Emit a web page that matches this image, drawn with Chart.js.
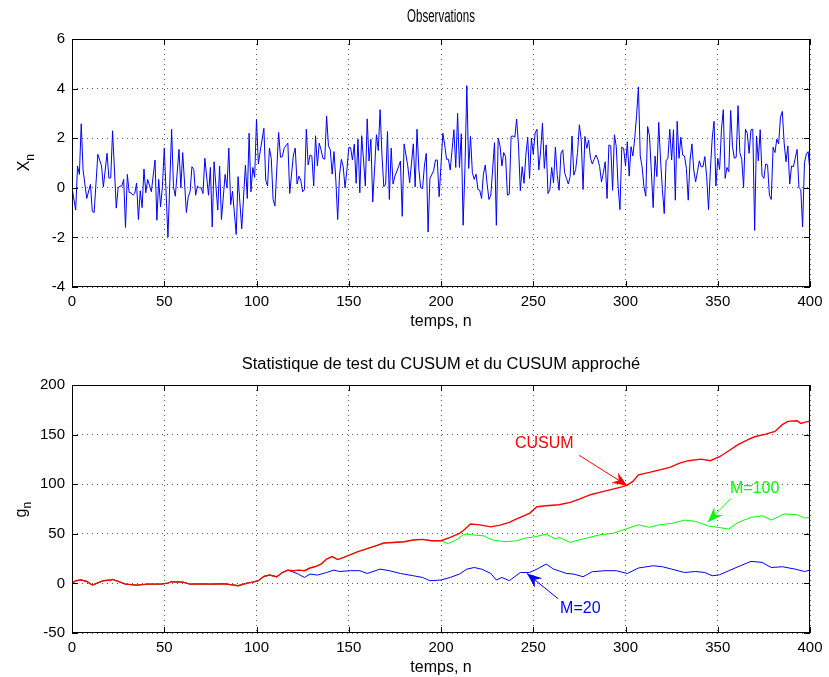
<!DOCTYPE html>
<html>
<head>
<meta charset="utf-8">
<script src="https://cdn.jsdelivr.net/npm/chart.js@4.4.1/dist/chart.umd.min.js"></script>
<style>
  html, body { margin: 0; padding: 0; background: #fff; }
  #wrap { position: relative; width: 829px; height: 677px; }
  canvas { position: absolute; left: 0; }
</style>
</head>
<body>
<div id="wrap">
  <canvas id="obsChart" width="829" height="338" style="top:0px"></canvas>
  <canvas id="cusumChart" width="829" height="339" style="top:338px"></canvas>
</div>
<script>
// ---- observations X_n (sample index, value)
const obsN = [0,2,3,4,5,6,8,10,11,12,14,16,17,19,20,21,22,24,25,26,27,28,29,30,31,32,33,34,35,36,37,38,39,40,41,43,45,46,47,48,49,
  50,52,54,55,56,58,59,60,62,63,64,65,66,67,68,69,70,71,72,74,75,76,77,79,80,81,83,84,85,86,87,89,90,92,94,95,96,97,98,99,
  100,101,102,104,105,106,107,108,109,110,112,113,114,115,117,118,120,121,122,123,124,125,126,127,128,129,130,131,132,133,134,135,136,137,138,139,140,141,142,143,144,145,146,147,148,149,
  150,151,152,153,154,155,156,157,158,159,160,161,162,163,165,166,167,168,169,170,171,172,173,174,175,177,178,179,180,182,183,185,186,187,188,189,190,191,192,193,194,196,197,198,199,
  201,202,203,204,205,207,208,209,210,211,212,213,214,215,216,217,218,219,220,221,222,223,224,225,226,227,229,230,231,232,233,234,235,236,237,238,239,240,241,242,243,244,245,246,247,248,249,
  250,251,252,253,254,255,256,257,258,259,260,261,262,263,264,265,266,267,268,269,270,271,272,273,274,275,276,277,278,279,280,281,282,283,284,285,286,287,288,289,290,291,292,293,294,295,296,297,298,299,
  300,301,302,303,304,305,306,307,308,309,310,311,312,313,314,315,316,317,318,319,320,321,322,323,324,325,326,327,328,329,330,331,332,333,334,335,336,337,338,339,340,341,342,343,344,345,346,347,348,349,
  350,351,352,353,354,355,356,357,358,359,360,361,362,363,364,365,366,367,368,369,370,371,372,373,374,375,376,377,378,379,380,381,382,383,384,385,386,387,388,389,390,391,392,393,394,395,396,397,398,399,400];
const obsX = [0,-0.9,0.88,0.54,2.58,0.72,-0.43,0.14,-0.95,-1.0,1.35,0.88,0.04,1.39,0.39,0.4,2.3,-0.82,0,0.07,0.07,0.34,-1.6,0.54,-0.19,-0.2,-0.3,-0.23,0.19,-1.28,-0.12,-0.8,0.76,-0.2,0.34,-0.16,1.12,-1.31,0.34,-0.77,0.04,
  1.6,-1.99,2.36,0.04,-0.34,1.55,0,1.42,-1.0,-0.36,-0.16,0.85,0.74,-0.3,0.07,0,0,-0.23,1.19,-0.3,0.82,-1.58,1.05,-0.9,0.88,-1.28,0.54,0,1.6,-0.68,-0.14,-1.88,0.45,-1.65,0.92,-0.43,2.2,-0.16,0.82,0.42,
  2.77,0.96,1.46,2.4,0.31,0.07,1.6,1.19,-0.47,-0.73,2.23,1.23,1.26,1.6,1.8,-0.23,1.32,1.6,0.15,0.47,0.31,-0.16,-0.07,2.36,0.92,1.32,1.28,0.07,2.1,0.88,1.8,1.53,1.19,1.15,2.9,1.69,1.53,0.55,1.46,0.31,-1.28,0.51,1.15,0.85,0,0.72,
  1.62,1.62,1.12,1.76,0.18,1.96,-0.2,2.1,1.12,0.07,2.78,1.08,1.96,-0.57,2.14,1.5,3.15,1.32,0.04,0.15,2.27,-0.47,1.6,0.15,0.47,0.85,1.08,-1.15,1.77,0.88,0.2,1.77,0.04,2.36,0.74,0,-0.03,0.88,1.39,-1.78,0.38,0.69,1.12,1.12,-0.36,
  2.2,1.73,1.15,1.15,0.72,2.34,0.82,3.0,0.82,2.18,-1.51,0.85,4.12,0.78,2.07,0.61,0.34,0.55,-0.07,-0.1,-0.43,0.55,0.92,0.15,-0.47,-0.3,1.82,-1.51,2.0,1.69,0.88,1.42,1.26,-0.3,-0.26,2.07,2.09,2.04,2.77,1.73,-0.12,0.85,0.18,1.32,2.04,0.38,2.0,
  1.36,2.2,2.36,0.72,1.5,2.61,0.78,1.73,-0.23,-0.07,0.82,0.2,1.64,0.51,-0.1,1.39,1.53,0.61,0.38,0.15,0.45,2.09,0.51,0.74,1.42,2.54,1.93,-0.07,2.07,1.59,1.93,1.19,0.96,1.15,1.32,1.15,0.85,0.24,0.61,1.05,-0.43,1.73,1.69,-0.1,2.14,1.66,0.04,-0.88,1.64,1.59,
  0.88,1.86,0.47,1.66,1.28,2.0,2.9,4.07,1.28,0.85,0.04,-0.34,2.47,2.09,0.65,-0.8,1.28,0.45,2.64,1.12,-0.07,-1.04,1.09,1.19,2.36,1.12,2.34,-0.5,2.68,1.19,2.04,1.32,1.28,0.78,-0.5,1.12,1.77,0.72,0.24,0.65,1.09,0.85,0.85,1.26,0.45,-0.88,0.72,2.0,2.68,0.07,
  1.19,0.74,2.34,3.15,0.38,0.82,0.65,3.12,1.66,1.19,1.23,3.31,1.42,1.15,0.01,2.36,2.2,1.39,2.34,2.36,-1.72,2.09,1.09,2.34,0.51,0.38,0.96,0.92,-0.3,-0.47,1.64,1.42,1.96,1.77,2.85,3.08,1.8,1.05,1.69,0.15,0.88,0.85,1.19,1.55,0.01,-0.07,-1.58,1.01,1.36,1.46,0.65];

// ---- test statistics g_n
// common part of all three curves (n <= 117)
const baseN = [0,2,5,8,11,14,17,21,22,25,29,35,41,48,52,54,60,64,70,75,82,88,90,95,98,101,104,107,111,114,117];
const baseG = [0,2.7,3.4,2,-1.7,0.5,2.7,3.4,4,2,-0.7,-1.7,-0.7,-0.7,0.3,1.7,1.3,-0.7,-0.5,-0.7,-0.3,-1.7,-2.4,0.3,1.3,2.7,7,8.4,6.7,11,13.4];
// CUSUM and M=100 are the same up to n = 200
const sharedN = [120,123,126,129,132,135,138,141,144,147,151,155,160,165,169,174,180,185,190,195,200];
const sharedG = [12.8,13.4,12.8,15.5,17,19.5,24.5,27,24,26,29,32,35,38,40.7,41.3,42,43.7,44.4,43,43];
const cusumN = [205,210,212,216,221,227,232,237,241,248,252,257,264,270,275,281,286,291,297,301,304,307,313,318,324,329,334,341,346,351,356,361,367,370,376,381,385,388,393,395,399,400];
const cusumG = [46.4,50.4,53,59.8,59,57,58.8,61.5,65,70.6,77.3,78.3,79.3,81.7,85,89.4,91.7,94,96.8,99,102.8,109.5,111.9,114.2,117,121,123.7,125.3,123.7,127.7,133.7,139.8,145.5,147.8,150.5,153.2,160,163.3,164,161.3,163.3,162.6];
const m100N = [204,209,212,214,218,223,228,231,235,241,246,251,257,262,264,270,273,279,286,293,300,307,313,318,325,332,338,345,350,356,361,368,374,379,386,393,397,400];
const m100G = [40,44.7,49,49.7,48.7,48,43.7,43,42,43,45.7,47,49.7,44.7,46.4,41.3,43,45.7,49,50.4,54.8,59,56.5,59,60.5,63.8,62.5,57.8,56.5,54.8,61.5,66.5,68.2,63.8,70,69.2,65.9,66.5];
const m20N = [122,126,129,133,138,142,145,151,156,160,167,172,178,185,190,194,200,205,210,214,218,222,227,230,233,237,243,248,252,257,261,265,268,272,277,282,289,295,301,307,315,320,325,332,338,343,347,351,356,361,368,374,379,385,392,397,400];
const m20G = [10,6,9.4,8.4,11,13.4,12,12.8,12.8,10,14.4,12.8,10,7.7,6,2.7,3.4,6,9.4,14.4,16,14.4,10,3.4,6,2.7,11,11,14.4,19.5,14.4,12,10,9.4,6.7,11.8,12.8,12.8,10,15.5,17.8,16.8,14.4,11,12,11,7.7,8.7,12.8,16.8,22.2,21.2,16,16.8,14.4,12,13.4];

const xTicksMax = 400;
const FONT = "'Liberation Sans', Arial, Helvetica, sans-serif";

function pts(n, v) { return n.map((k, i) => ({x: k, y: v[i]})); }

function arrow(ctx, x1, y1, x2, y2, color) {
  ctx.strokeStyle = color; ctx.fillStyle = color; ctx.lineWidth = 1;
  ctx.beginPath(); ctx.moveTo(x1, y1); ctx.lineTo(x2, y2); ctx.stroke();
  const a = Math.atan2(y2 - y1, x2 - x1);
  ctx.save();
  ctx.translate(x2, y2); ctx.rotate(a);
  ctx.beginPath();
  ctx.moveTo(0, 0); ctx.lineTo(-15, -6); ctx.lineTo(-10, 0); ctx.lineTo(-15, 6);
  ctx.closePath(); ctx.fill();
  ctx.restore();
}

// matlab style box, inner ticks, titles and arrows
const frame = {
  id: 'frame',
  afterDraw(chart, args, o) {
    const {ctx, chartArea: a} = chart;
    const x = chart.scales.x, y = chart.scales.y;
    ctx.save();
    ctx.strokeStyle = '#000'; ctx.lineWidth = 1;
    ctx.strokeRect(Math.round(a.left) + 0.5, Math.round(a.top) + 0.5, Math.round(a.right - a.left) - 1, Math.round(a.bottom - a.top) - 1);
    ctx.beginPath();
    x.ticks.forEach(t => {
      const p = Math.round(x.getPixelForValue(t.value)) + 0.5;
      ctx.moveTo(p, a.bottom); ctx.lineTo(p, a.bottom - 6);
      ctx.moveTo(p, a.top); ctx.lineTo(p, a.top + 6);
    });
    y.ticks.forEach(t => {
      const p = Math.round(y.getPixelForValue(t.value)) + 0.5;
      ctx.moveTo(a.left, p); ctx.lineTo(a.left + 6, p);
      ctx.moveTo(a.right, p); ctx.lineTo(a.right - 6, p);
    });
    ctx.stroke();

    ctx.fillStyle = '#000';
    ctx.textAlign = 'center'; ctx.textBaseline = 'middle';
    const cx = (a.left + a.right) / 2;
    ctx.font = o.titleFont + 'px ' + FONT;
    ctx.save();
    ctx.translate(cx, o.titleY);
    ctx.scale(o.titleScale || 1, 1);
    ctx.fillText(o.title, 0, 0);
    ctx.restore();
    ctx.font = '16px ' + FONT;
    ctx.fillText(o.xlabel, cx, o.xlabelY);

    // rotated y label with subscript
    ctx.save();
    ctx.translate(o.ylabelX, o.ylabelY);
    ctx.rotate(-Math.PI / 2);
    const w = ctx.measureText(o.ylabel).width;
    ctx.fillText(o.ylabel, 0, 0);
    ctx.font = '12px ' + FONT;
    ctx.textAlign = 'left';
    ctx.fillText('n', w / 2, 6);
    ctx.restore();

    (o.notes || []).forEach(nt => {
      const px = v => x.getPixelForValue(v), py = v => y.getPixelForValue(v);
      arrow(ctx, px(nt.from[0]), py(nt.from[1]), px(nt.to[0]), py(nt.to[1]), nt.color);
      ctx.fillStyle = nt.color;
      ctx.font = '16px ' + FONT;
      ctx.textAlign = 'center';
      ctx.fillText(nt.text, px(nt.at[0]), py(nt.at[1]));
    });
    ctx.restore();
  }
};

function axes(yMin, yMax, yStep, xHeight) {
  const grid = {color: 'rgba(0,0,0,0.65)', lineWidth: 1, drawTicks: false};
  const border = {display: false, dash: [1, 4]};
  return {
    x: {type: 'linear', min: 0, max: xTicksMax,
        ticks: {stepSize: 50, padding: 6, color: '#000', font: {size: 15, family: FONT}, maxRotation: 0},
        grid: grid, border: border,
        afterFit: s => { s.height = xHeight; }},
    y: {min: yMin, max: yMax,
        ticks: {stepSize: yStep, padding: 7, color: '#000', font: {size: 15, family: FONT}},
        grid: grid, border: border,
        afterFit: s => { s.width = 72; }}
  };
}

new Chart(document.getElementById('obsChart'), {
  type: 'line',
  data: {datasets: [{data: pts(obsN, obsX), borderColor: '#0000ff', borderWidth: 1, pointRadius: 0, tension: 0}]},
  options: {
    responsive: false, animation: false,
    layout: {padding: {top: 39, right: 19, left: 0, bottom: 0}},
    scales: axes(-4, 6, 2, 51),
    plugins: {
      legend: {display: false}, tooltip: {enabled: false},
      frame: {title: 'Observations', titleFont: 18, titleY: 17, titleScale: 0.64, xlabel: 'temps, n', xlabelY: 322,
              ylabel: 'X', ylabelX: 25, ylabelY: 166}
    }
  },
  plugins: [frame]
});

new Chart(document.getElementById('cusumChart'), {
  type: 'line',
  data: {datasets: [
    {label: 'CUSUM', data: pts(baseN.concat(sharedN, cusumN), baseG.concat(sharedG, cusumG)), borderColor: '#ff0000', borderWidth: 1.4, pointRadius: 0, tension: 0},
    {label: 'M=100', data: pts(baseN.concat(sharedN, m100N), baseG.concat(sharedG, m100G)), borderColor: '#00ff00', borderWidth: 1, pointRadius: 0, tension: 0},
    {label: 'M=20', data: pts(baseN.concat(m20N), baseG.concat(m20G)), borderColor: '#0000ff', borderWidth: 1, pointRadius: 0, tension: 0}
  ]},
  options: {
    responsive: false, animation: false,
    layout: {padding: {top: 47, right: 19, left: 0, bottom: 0}},
    scales: axes(-50, 200, 50, 44),
    plugins: {
      legend: {display: false}, tooltip: {enabled: false},
      frame: {title: 'Statistique de test du CUSUM et du CUSUM approché', titleFont: 16, titleY: 27, titleScale: 1.03,
              xlabel: 'temps, n', xlabelY: 330, ylabel: 'g', ylabelX: 22, ylabelY: 175,
              notes: [
                {text: 'CUSUM', color: '#ff0000', at: [256, 141], from: [275, 129], to: [301, 98.5]},
                {text: 'M=100', color: '#00ff00', at: [370, 95.5], from: [357, 85.5], to: [344.7, 62]},
                {text: 'M=20', color: '#0000ff', at: [275.5, -25.5], from: [263.5, -15.5], to: [246.6, 10]}
              ]}
    }
  },
  plugins: [frame]
});
</script>
</body>
</html>
